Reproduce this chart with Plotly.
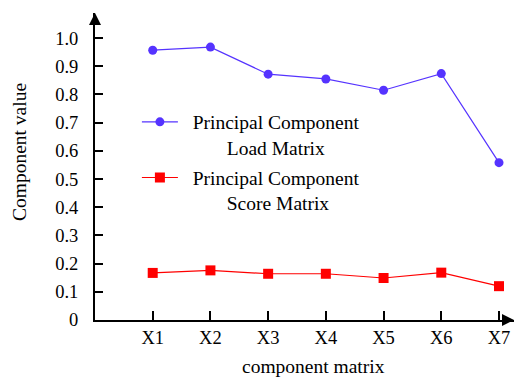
import plotly.graph_objects as go

categories = ["X1", "X2", "X3", "X4", "X5", "X6", "X7"]
load_values = [0.957, 0.968, 0.872, 0.855, 0.815, 0.874, 0.558]
score_values = [0.167, 0.176, 0.164, 0.164, 0.149, 0.168, 0.120]
ytick_vals = [0, 0.1, 0.2, 0.3, 0.4, 0.5, 0.6, 0.7, 0.8, 0.9, 1.0]
ytick_text = ["0", "0.1", "0.2", "0.3", "0.4", "0.5", "0.6", "0.7", "0.8", "0.9", "1.0"]

NB = "\u00a0"
FONT = "Liberation Serif"
FS = 19.5
TFS = 18.5

fig = go.Figure()
fig.add_trace(go.Scatter(
    x=categories, y=load_values, mode="lines+markers",
    name=NB * 2 + "Principal Component<br>" + NB * 9 + "Load Matrix",
    line=dict(color="#5533ff", width=1.2),
    marker=dict(symbol="circle", size=9, color="#5533ff"),
    legendgroup="a",
))
fig.add_trace(go.Scatter(
    x=categories, y=score_values, mode="lines+markers",
    name=NB * 2 + "Principal Component<br>" + NB * 9 + "Score Matrix",
    line=dict(color="#ff0000", width=1.2),
    marker=dict(symbol="square", size=10, color="#ff0000"),
    legendgroup="b",
))

fig.update_layout(
    width=515, height=378,
    margin=dict(l=95, r=1, t=13, b=58),
    paper_bgcolor="white", plot_bgcolor="white",
    font=dict(family=FONT, size=FS, color="black"),
    showlegend=True,
    legend=dict(x=0.10, y=0.708, xanchor="left", yanchor="top",
                bgcolor="rgba(0,0,0,0)", valign="top",
                tracegroupgap=2, itemwidth=36,
                font=dict(family=FONT, size=FS, color="black")),
    xaxis=dict(
        type="category", range=[-1, 6.26],
        showline=True, linecolor="black", linewidth=2,
        ticks="inside", ticklen=9, tickwidth=1.5, tickcolor="black",
        showgrid=False, zeroline=False,
        tickfont=dict(family=FONT, size=TFS),
    ),
    yaxis=dict(
        range=[0, 1.089],
        tickvals=ytick_vals, ticktext=ytick_text,
        showline=True, linecolor="black", linewidth=2,
        ticks="inside", ticklen=8, tickwidth=1.5, tickcolor="black",
        showgrid=False, zeroline=False,
        ticklabelstandoff=11,
        tickfont=dict(family=FONT, size=TFS),
    ),
)

# axis titles
fig.add_annotation(xref="paper", yref="paper", x=(313 - 95) / 419, y=-(366 - 320) / 307,
                   text="component matrix", showarrow=False,
                   xanchor="center", yanchor="middle",
                   font=dict(family=FONT, size=FS))
fig.add_annotation(xref="paper", yref="paper", x=-(95 - 19) / 419, y=(320 - 152) / 307,
                   text="Component value", showarrow=False, textangle=-90,
                   xanchor="center", yanchor="middle",
                   font=dict(family=FONT, size=FS))

# axis arrowheads
fig.add_annotation(xref="paper", yref="paper", x=0, y=1.0, ax=0, ay=12,
                   showarrow=True, arrowhead=2, arrowsize=1.2, arrowwidth=2,
                   arrowcolor="black", text="")
fig.add_annotation(xref="paper", yref="paper", x=1.0, y=0, ax=-12, ay=0,
                   showarrow=True, arrowhead=2, arrowsize=1.2, arrowwidth=2,
                   arrowcolor="black", text="")

fig.write_html("out.html")
